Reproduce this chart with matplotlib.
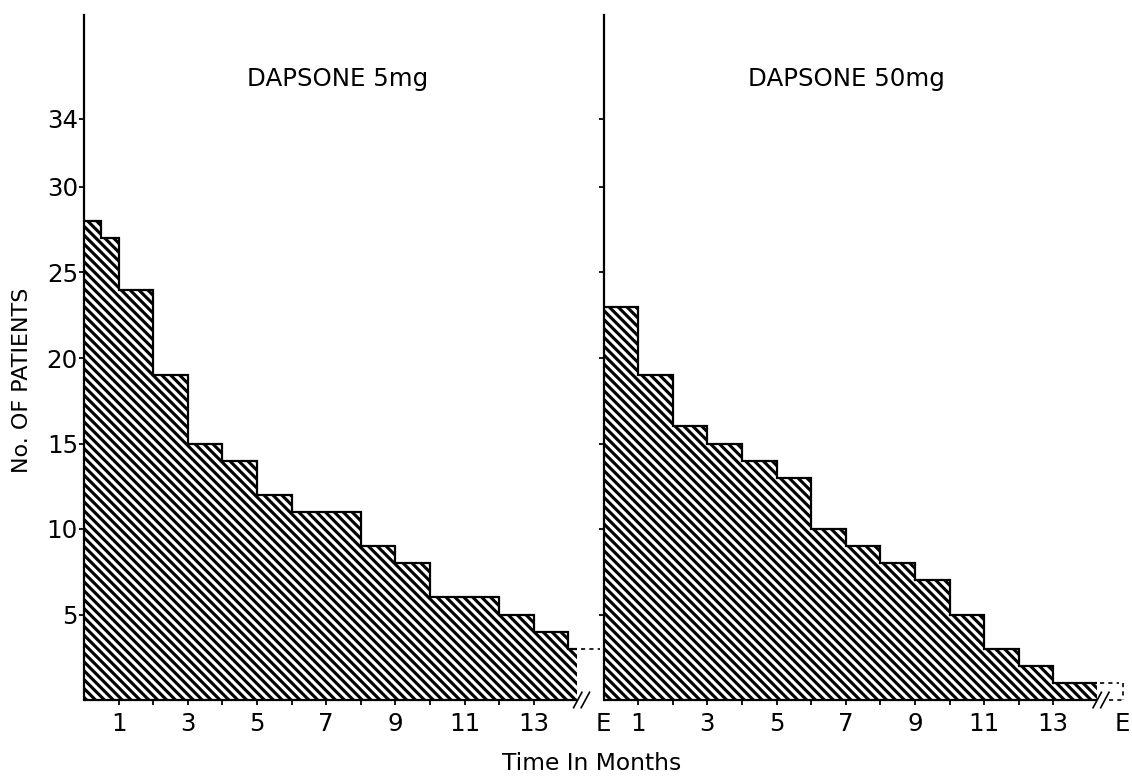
import matplotlib
matplotlib.use("Agg")
import matplotlib.pyplot as plt

# patients still on treatment, month by month (step edges in months)
low_edges = [0, 0.5, 1, 2, 3, 4, 5, 6, 8, 9, 10, 12, 13, 14]
low_counts = [28, 27, 24, 19, 15, 14, 12, 11, 9, 8, 6, 5, 4]
low_end = 3  # still in the trial at E

high_edges = [0, 1, 2, 3, 4, 5, 6, 7, 8, 9, 10, 11, 12, 13, 14]
high_counts = [23, 19, 16, 15, 14, 13, 10, 9, 8, 7, 5, 3, 2, 1]
high_end = 1

titles = ["DAPSONE 5mg", "DAPSONE 50mg"]
y_ticks = [5, 10, 15, 20, 25, 30, 34]
x_labelled = [1, 3, 5, 7, 9, 11, 13]
x_minor = [2, 4, 6, 8, 10, 12]
end_month = 15  # the "E" position

DPI = 80
W, H = 1132, 777
PX_MONTH = 34.6
PX_UNIT = 17.1
BASE_Y = 700
FS = 22
LW = 2.0
TAIL = 0.25

plt.rcParams["font.family"] = ["DejaVu Sans"]
plt.rcParams["hatch.linewidth"] = 2.8

fig = plt.figure(figsize=(W / DPI, H / DPI), dpi=DPI)
fig.patch.set_facecolor("white")

top_val = (BASE_Y - 15) / PX_UNIT


def panel(left_px, right_px):
    ax = fig.add_axes([left_px / W, (H - BASE_Y) / H,
                       (right_px - left_px) / W, (BASE_Y - 15) / H])
    ax.set_xlim(0, (right_px - left_px) / PX_MONTH)
    ax.set_ylim(0, top_val)
    for s in ["top", "right", "bottom"]:
        ax.spines[s].set_visible(False)
    ax.spines["left"].set_linewidth(2.0)
    ax.patch.set_alpha(0)
    return ax


def draw(ax, edges, counts, end_count, title, title_x, boxed, show_y):
    ext_edges = edges + [edges[-1] + TAIL]
    ext_counts = counts + [end_count]
    ax.stairs(ext_counts, ext_edges, fill=True, hatch="\\\\\\",
              facecolor="white", edgecolor="black", linewidth=0)
    ax.stairs(ext_counts, ext_edges, baseline=None, color="black", linewidth=LW)
    ax.plot([0, ext_edges[-1]], [0, 0], color="black", lw=LW,
            solid_capstyle="butt", clip_on=False)

    # dashed continuation up to E
    dash = dict(color="black", lw=1.5, ls=(0, (2.5, 2.5)), clip_on=False)
    ax.plot([ext_edges[-1] + 0.1, end_month - 0.1], [end_count, end_count], **dash)
    if boxed:
        ax.plot([end_month, end_month], [end_count, 0], **dash)
        ax.plot([end_month - 0.4, end_month], [0, 0], **dash)

    # axis break marks
    bx = ext_edges[-1] + 0.02
    for d in (0, 0.22):
        ax.plot([bx + d - 0.12, bx + d + 0.12], [-0.45, 0.45],
                color="black", lw=1.5, clip_on=False)

    ax.set_yticks(y_ticks)
    if show_y:
        ax.set_yticklabels([str(v) for v in y_ticks], fontsize=FS)
    else:
        ax.set_yticklabels([])
    ax.tick_params(axis="y", direction="out", length=4.5, width=1.6, pad=1)

    ax.set_xticks(x_labelled + [end_month])
    ax.set_xticklabels([str(v) for v in x_labelled] + ["E"], fontsize=FS)
    ax.set_xticks(x_minor, minor=True)
    ax.tick_params(axis="x", which="both", direction="out", length=4.5,
                   width=1.6, pad=6)
    ax.xaxis.get_major_ticks()[-1].tick1line.set_visible(False)

    ax.text(title_x, (BASE_Y - 86) / PX_UNIT, title, fontsize=FS,
            ha="left", va="baseline")


ax1 = panel(84, 84 + 15 * PX_MONTH)
draw(ax1, low_edges, low_counts, low_end, titles[0], 4.71, False, True)

ax2 = panel(603.5, W)
draw(ax2, high_edges, high_counts, high_end, titles[1], 4.17, True, False)

fig.text(22 / W, 1 - 380 / H, "No. OF PATIENTS", rotation=90,
         ha="center", va="center", fontsize=20)
fig.text(592 / W, 1 - 770 / H, "Time In Months", ha="center",
         va="baseline", fontsize=21)

fig.savefig("out.png", dpi=DPI, facecolor="white")
